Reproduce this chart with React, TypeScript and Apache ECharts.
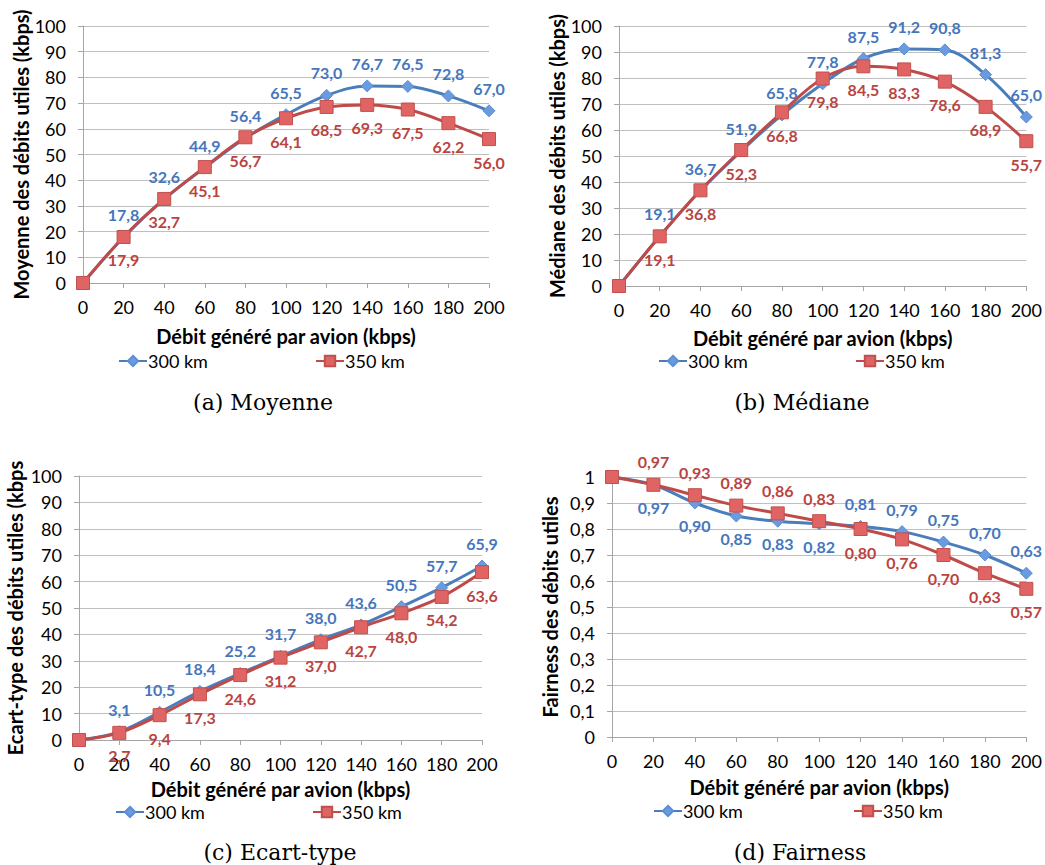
import React, { useEffect, useRef } from "react";
import * as echarts from "echarts";

const xValues = [0, 20, 40, 60, 80, 100, 120, 140, 160, 180, 200];

const moyenne300 = [0, 17.8, 32.6, 44.9, 56.4, 65.5, 73.0, 76.7, 76.5, 72.8, 67.0];
const moyenne350 = [0, 17.9, 32.7, 45.1, 56.7, 64.1, 68.5, 69.3, 67.5, 62.2, 56.0];

const mediane300 = [0, 19.1, 36.7, 51.9, 65.8, 77.8, 87.5, 91.2, 90.8, 81.3, 65.0];
const mediane350 = [0, 19.1, 36.8, 52.3, 66.8, 79.8, 84.5, 83.3, 78.6, 68.9, 55.7];

const ecart300 = [0, 3.1, 10.5, 18.4, 25.2, 31.7, 38.0, 43.6, 50.5, 57.7, 65.9];
const ecart350 = [0, 2.7, 9.4, 17.3, 24.6, 31.2, 37.0, 42.7, 48.0, 54.2, 63.6];

const fairness300 = [1, 0.97, 0.9, 0.85, 0.83, 0.82, 0.81, 0.79, 0.75, 0.7, 0.63];
const fairness350 = [1, 0.97, 0.93, 0.89, 0.86, 0.83, 0.8, 0.76, 0.7, 0.63, 0.57];
// label above for 300 km in fairness chart (true) or below (false)
const fairness300Above = [false, false, false, false, false, false, true, true, true, true, true];

const seriesNames = ["300 km", "350 km"];
const yTitles = [
  "Moyenne des débits utiles (kbps)",
  "Médiane des débits utiles (kbps)",
  "Ecart-type des débits utiles (kbps",
  "Fairness des débits utiles",
];
const xTitle = "Débit généré par avion (kbps)";
const captions = ["(a) Moyenne", "(b) Médiane", "(c) Ecart-type", "(d) Fairness"];

const FONT = "Lato, 'Open Sans', sans-serif";
const BLUE = "#4a7ebb";
const RED = "#be4b48";

export default function App() {
  const ref = useRef<HTMLDivElement>(null);
  useEffect(() => {
    if (!ref.current) return;
    const chart = echarts.init(ref.current, undefined, { renderer: "svg" });

    const grids = [
      { left: 83, top: 26, width: 406, height: 257 },
      { left: 619, top: 26, width: 408, height: 260 },
      { left: 79, top: 476, width: 403, height: 264 },
      { left: 612, top: 477, width: 416, height: 260 },
    ];
    const yNameGaps = [51, 51, 54, 52];
    const xNameGaps = [43, 42, 39, 40];
    const legendPos = [
      [118, 315, 352],
      [658, 855, 352],
      [115, 312, 803],
      [653, 853, 802],
    ];
    const captionPos = [
      [263, 402],
      [802, 402],
      [280, 852],
      [800, 852],
    ];
    const sets = [
      [moyenne300, moyenne350],
      [mediane300, mediane350],
      [ecart300, ecart350],
      [fairness300, fairness350],
    ];

    const fmtNum = (v: number, d: number) => v.toFixed(d).replace(".", ",");

    const xAxes: any[] = [];
    const yAxes: any[] = [];
    const series: any[] = [];
    const legends: any[] = [];
    const graphics: any[] = [];

    grids.forEach((g, i) => {
      const isFair = i === 3;
      xAxes.push({
        gridIndex: i,
        type: "value",
        min: 0,
        max: 200,
        interval: 20,
        name: xTitle,
        nameLocation: "middle",
        nameGap: xNameGaps[i],
        nameTextStyle: { fontFamily: FONT, fontSize: 20, fontWeight: "bold", color: "#000" },
        axisLine: { show: true, lineStyle: { color: "#a6a6a6", width: 1 } },
        axisTick: { show: true, length: 5, lineStyle: { color: "#a6a6a6" } },
        axisLabel: { fontFamily: FONT, fontSize: 18, color: "#000", margin: 15 },
        splitLine: { show: false },
      });
      yAxes.push({
        gridIndex: i,
        type: "value",
        min: 0,
        max: isFair ? 1 : 100,
        interval: isFair ? 0.1 : 10,
        name: yTitles[i],
        nameLocation: "middle",
        nameRotate: 90,
        nameGap: yNameGaps[i],
        nameTextStyle: { fontFamily: FONT, fontSize: 20, fontWeight: "bold", color: "#000" },
        axisLine: { show: true, lineStyle: { color: "#a6a6a6", width: 1 } },
        axisTick: { show: true, length: 5, lineStyle: { color: "#a6a6a6" } },
        axisLabel: {
          fontFamily: FONT,
          fontSize: 18,
          color: "#000",
          margin: 17,
          formatter: (v: number) => (isFair ? String(Math.round(v * 10) / 10).replace(".", ",") : String(v)),
        },
        splitLine: { show: true, lineStyle: { color: "#bfbfbf", width: 1 } },
      });

      [0, 1].forEach((s) => {
        const vals = sets[i][s];
        const color = s === 0 ? BLUE : RED;
        const data = xValues.map((x, k) => {
          const item: any = { value: [x, vals[k]] };
          if (k === 0) {
            item.label = { show: false };
          } else if (isFair) {
            const above = s === 0 ? fairness300Above[k] : !fairness300Above[k];
            item.label = { position: above ? "top" : "bottom" };
          }
          return item;
        });
        series.push({
          name: seriesNames[s],
          type: "line",
          xAxisIndex: i,
          yAxisIndex: i,
          smooth: 0.35,
          data,
          symbol: s === 0 ? "diamond" : "rect",
          symbolSize: s === 0 ? 12 : 13,
          lineStyle: { color, width: 3 },
          itemStyle: s === 0
            ? { color: "#6a9be0", borderColor: "#5b8fd6", borderWidth: 1 }
            : { color: "#e06464", borderColor: "#c0504d", borderWidth: 1 },
          label: {
            show: true,
            position: s === 0 ? "top" : "bottom",
            distance: 8,
            fontFamily: FONT,
            fontSize: 16,
            fontWeight: "bold",
            color: s === 0 ? "#4576bd" : "#b94441",
            formatter: (p: any) => fmtNum(p.value[1], isFair ? 2 : 1),
          },
          z: s === 0 ? 2 : 3,
        });
        legends.push({
          data: [seriesNames[s]],
          left: legendPos[i][s],
          top: legendPos[i][2],
          itemWidth: 28,
          itemHeight: 13,
          padding: 0,
          textStyle: { fontFamily: FONT, fontSize: 18, color: "#000", padding: [0, 0, 0, -4] },
        });
      });

      graphics.push({
        type: "text",
        x: captionPos[i][0],
        y: captionPos[i][1],
        style: {
          text: captions[i],
          font: "22px 'DejaVu Serif', serif",
          fill: "#000",
          textAlign: "center",
          textVerticalAlign: "middle",
        },
      });
    });

    chart.setOption({
      animation: false,
      backgroundColor: "#fff",
      grid: grids,
      xAxis: xAxes,
      yAxis: yAxes,
      legend: legends,
      series,
      graphic: graphics,
    });

    return () => chart.dispose();
  }, []);

  return (
    <div
      ref={ref}
      style={{ position: "fixed", left: 0, top: 0, width: 1045, height: 865, background: "#fff" }}
    />
  );
}
